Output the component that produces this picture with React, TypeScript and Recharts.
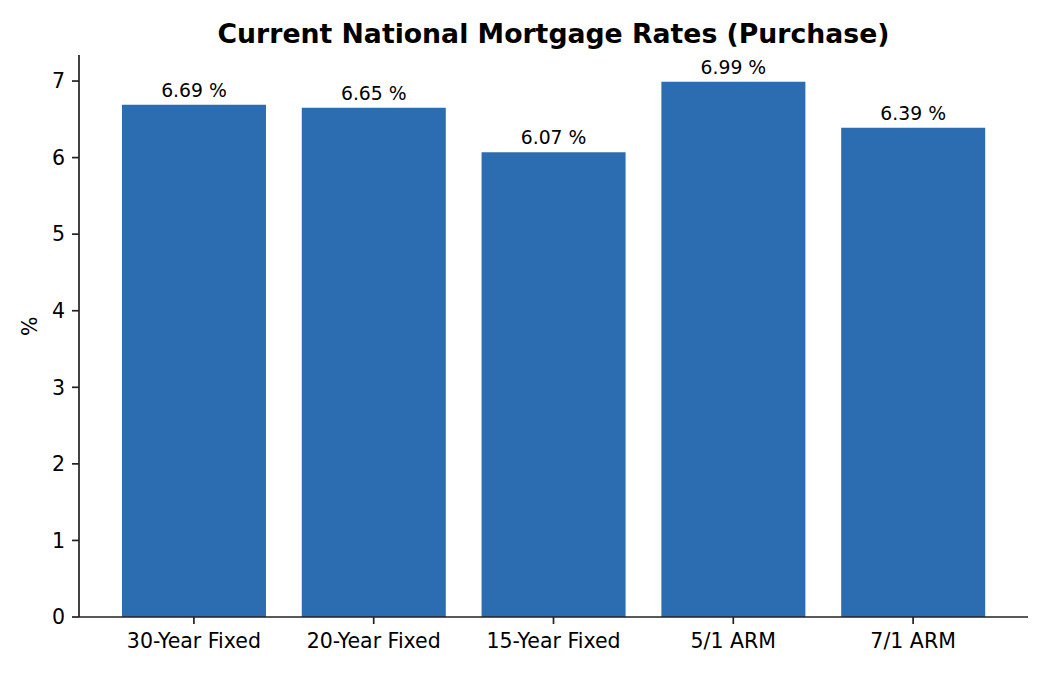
import { BarChart, Bar, XAxis, YAxis, LabelList } from "recharts"

const categories = ["30-Year Fixed", "20-Year Fixed", "15-Year Fixed", "5/1 ARM", "7/1 ARM"]
const rates = [6.69, 6.65, 6.07, 6.99, 6.39]
const yTicks = [0, 1, 2, 3, 4, 5, 6, 7]

const data = categories.map((name, i) => ({ name, rate: rates[i] }))

const FONT = "'DejaVu Sans', sans-serif"
const AXIS = "#222222"

export default function App() {
  return (
    <div style={{ position: "absolute", left: 0, top: 0, width: 1050, height: 675, background: "#fff", fontFamily: FONT }}>
      <div style={{ position: "absolute", left: 0, top: 18, width: 1107, textAlign: "center", fontSize: 26.7, lineHeight: "32px", fontWeight: "bold", color: "#000", fontFamily: FONT }}>
        Current National Mortgage Rates (Purchase)
      </div>
      <BarChart
        width={1050}
        height={675}
        data={data}
        margin={{ top: 55, right: 22, bottom: 0, left: 0 }}
        barCategoryGap="10%"
      >
        <XAxis
          dataKey="name"
          height={58}
          padding={{ left: 25, right: 25 }}
          tick={{ fill: "#000", fontSize: 20.5, fontFamily: FONT, dy: 7 }}
          tickLine={{ stroke: AXIS, strokeWidth: 1.7 }}
          tickSize={7}
          axisLine={{ stroke: AXIS, strokeWidth: 1.7 }}
        />
        <YAxis
          width={79}
          domain={[0, 7.34]}
          ticks={yTicks}
          interval={0}
          tick={{ fill: "#000", fontSize: 20.5, fontFamily: FONT, dx: -5 }}
          tickLine={{ stroke: AXIS, strokeWidth: 1.7 }}
          tickSize={7}
          axisLine={{ stroke: AXIS, strokeWidth: 1.7 }}
          label={{ value: "%", angle: -90, position: "insideLeft", offset: 30, fill: "#000", fontSize: 20.5, fontFamily: FONT }}
        />
        <Bar dataKey="rate" fill="#2c6cb0" isAnimationActive={false}>
          <LabelList
            dataKey="rate"
            position="top"
            offset={8}
            formatter={(v: number) => `${v.toFixed(2)} %`}
            style={{ fill: "#000", fontSize: 18.8, fontFamily: FONT }}
          />
        </Bar>
      </BarChart>
    </div>
  )
}
